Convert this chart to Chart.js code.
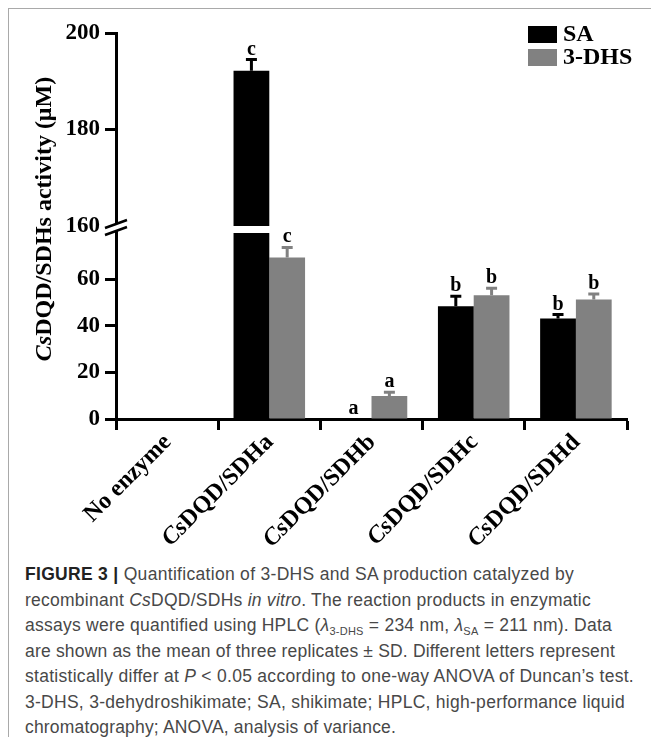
<!DOCTYPE html>
<html>
<head>
<meta charset="utf-8">
<script src="https://cdn.jsdelivr.net/npm/chart.js"></script>
<style>
  html, body { margin: 0; padding: 0; background: #fff; }
  body { width: 651px; height: 737px; position: relative; overflow: hidden; }
  .frame { position: absolute; left: 8px; top: 8px; width: 660px; height: 740px;
           border-top: 1.5px solid #a9a9a9; border-left: 1.5px solid #a9a9a9; }
  #chart { position: absolute; left: 0; top: 0; }
  .caption { position: absolute; left: 25px; top: 562px;
             font-family: "Liberation Sans", Arial, sans-serif; font-size: 17.5px;
             line-height: 25.5px; color: #484848; }
  .caption div { white-space: nowrap; width: max-content; }
  .caption b { color: #222; }
  .caption sub { font-size: 11px; line-height: 0; vertical-align: -4px; }
</style>
</head>
<body>
<div class="frame"></div>
<canvas id="chart" width="651" height="560"></canvas>
<div class="caption">
<div data-end="574"><b>FIGURE 3 |</b> Quantification of 3-DHS and SA production catalyzed by</div>
<div data-end="591">recombinant <i>Cs</i>DQD/SDHs <i>in vitro</i>. The reaction products in enzymatic</div>
<div data-end="612">assays were quantified using HPLC (<i>λ</i><sub>3-DHS</sub> = 234 nm, <i>λ</i><sub>SA</sub> = 211 nm). Data</div>
<div data-end="615">are shown as the mean of three replicates ± SD. Different letters represent</div>
<div data-end="634">statistically differ at <i>P</i> &lt; 0.05 according to one-way ANOVA of Duncan’s test.</div>
<div data-end="625">3-DHS, 3-dehydroshikimate; SA, shikimate; HPLC, high-performance liquid</div>
<div data-end="396">chromatography; ANOVA, analysis of variance.</div>
</div>
<script>
// values (µM)
const CATEGORIES = ['No enzyme', 'CsDQD/SDHa', 'CsDQD/SDHb', 'CsDQD/SDHc', 'CsDQD/SDHd'];
const SA_MEAN = [0, 192.2, 0, 48.5, 43.2];
const SA_SD = [0, 2.3, 0, 4.3, 1.7];
const SA_LETTERS = ['', 'c', 'a', 'b', 'b'];
const DHS_MEAN = [0, 69.4, 9.9, 53.2, 51.4];
const DHS_SD = [0, 4.4, 1.6, 3.0, 2.4];
const DHS_LETTERS = ['', 'c', 'a', 'b', 'b'];
const LOW_TICKS = [0, 20, 40, 60];
const HIGH_TICKS = [160, 180, 200];
const LOW_RANGE = [0, 83];
const HIGH_RANGE = [160, 200];
const BREAK_AT = 80;   // lower bars are cut here, the rest goes on the upper segment

const SERIF = '"Liberation Serif", "Times New Roman", serif';
const SA_COLOR = '#000000';
const DHS_COLOR = '#818181';

// stretch each caption line so it ends where the printed one does
document.querySelectorAll('.caption div').forEach(line => {
  const target = +line.dataset.end - 25;
  const chars = line.textContent.length;
  for (let k = 0; k < 2; k++) {
    const w = line.getBoundingClientRect().width;
    const ls = parseFloat(line.style.letterSpacing) || 0;
    line.style.letterSpacing = (ls + (target - w) / chars) + 'px';
  }
});

function partsOf(label) {
  return label.startsWith('Cs') ? [{ t: 'Cs', i: true }, { t: label.slice(2), i: false }] : [{ t: label, i: false }];
}
function fontFor(p, size) { return (p.i ? 'italic ' : '') + 'bold ' + size + 'px ' + SERIF; }
function measureParts(ctx, parts, size) {
  return parts.reduce((w, p) => { ctx.font = fontFor(p, size); return w + ctx.measureText(p.t).width; }, 0);
}
function fillParts(ctx, parts, size, x, y) {
  parts.forEach(p => { ctx.font = fontFor(p, size); ctx.fillText(p.t, x, y); x += ctx.measureText(p.t).width; });
}

function yScale(ticks, range, weight) {
  return {
    type: 'linear', position: 'left', stack: 'y', stackWeight: 1, weight: weight,
    min: range[0], max: range[1], stacked: false,
    afterBuildTicks: s => { s.ticks = ticks.map(v => ({ value: v })); },
    afterFit: s => { s.width = 116; },
    border: { display: true, color: '#000', width: 3 },
    grid: { drawOnChartArea: false, tickLength: 11, tickWidth: 3,
            tickColor: c => (c.tick && c.tick.value === HIGH_RANGE[0]) ? 'rgba(0,0,0,0)' : '#000' },
    ticks: { color: '#000', padding: 5, font: { family: SERIF, weight: 'bold', size: 23 } }
  };
}

const overlay = {
  id: 'overlay',
  afterDatasetsDraw(chart) {
    const ctx = chart.ctx;
    const low = chart.scales.yLow, high = chart.scales.yHigh;
    const series = [[SA_MEAN, SA_SD, SA_LETTERS, 0, SA_COLOR], [DHS_MEAN, DHS_SD, DHS_LETTERS, 1, DHS_COLOR]];
    ctx.save();
    series.forEach(([mean, sd, letters, di, color]) => {
      const meta = chart.getDatasetMeta(di);
      mean.forEach((m, i) => {
        const axis = m > BREAK_AT ? high : low;
        const bx = meta.data[i].x;
        const yBar = axis.getPixelForValue(m);
        const yErr = axis.getPixelForValue(m + sd[i]);
        if (sd[i] > 0) {
          ctx.strokeStyle = color;
          ctx.lineWidth = 3;
          ctx.beginPath();
          ctx.moveTo(bx, yBar); ctx.lineTo(bx, yErr);
          ctx.moveTo(bx - 5.5, yErr); ctx.lineTo(bx + 5.5, yErr);
          ctx.stroke();
        }
        if (letters[i]) {
          ctx.fillStyle = '#000';
          ctx.font = 'bold 20px ' + SERIF;
          ctx.textAlign = 'center';
          ctx.textBaseline = 'alphabetic';
          ctx.fillText(letters[i], bx, yErr - 5);
        }
      });
    });
    ctx.restore();
  },
  afterDraw(chart) {
    const ctx = chart.ctx, area = chart.chartArea;
    const low = chart.scales.yLow, high = chart.scales.yHigh, xs = chart.scales.x;
    ctx.save();

    // axis break marks
    const ax = low.right, jy = high.bottom;
    ctx.fillStyle = '#fff';
    ctx.fillRect(ax - 3, jy - 2, 6, 7);
    ctx.strokeStyle = '#000';
    ctx.lineWidth = 2.5;
    ctx.beginPath();
    ctx.moveTo(ax - 11, jy + 2); ctx.lineTo(ax + 11, jy - 6);
    ctx.moveTo(ax - 11, jy + 9); ctx.lineTo(ax + 11, jy + 1);
    ctx.stroke();

    // y axis title
    const title = partsOf('CsDQD/SDHs activity (μM)');
    ctx.fillStyle = '#000';
    ctx.textAlign = 'left';
    ctx.textBaseline = 'middle';
    ctx.save();
    ctx.translate(45, (area.top + area.bottom) / 2 - 7);
    ctx.rotate(-Math.PI / 2);
    fillParts(ctx, title, 24, -measureParts(ctx, title, 24) / 2, 0);
    ctx.restore();

    // rotated category labels
    ctx.textBaseline = 'alphabetic';
    CATEGORIES.forEach((lab, i) => {
      const parts = partsOf(lab);
      ctx.save();
      ctx.translate(xs.getPixelForValue(i) + 5, area.bottom + 24);
      ctx.rotate(-Math.PI / 4);
      fillParts(ctx, parts, 24, -measureParts(ctx, parts, 24), 0);
      ctx.restore();
    });

    // legend
    const items = [[chart.data.datasets[0].label, SA_COLOR], [chart.data.datasets[1].label, DHS_COLOR]];
    ctx.textBaseline = 'middle';
    items.forEach(([label, color], k) => {
      const ly = 26 + k * 23;
      ctx.fillStyle = color;
      ctx.fillRect(area.right - 99, ly, 29, 17);
      ctx.fillStyle = '#000';
      ctx.font = 'bold 24px ' + SERIF;
      ctx.fillText(label, area.right - 64, ly + 9);
    });
    ctx.restore();
  }
};

new Chart(document.getElementById('chart'), {
  type: 'bar',
  data: {
    labels: CATEGORIES,
    datasets: [
      { label: 'SA', stack: 'SA', yAxisID: 'yLow', backgroundColor: SA_COLOR,
        data: SA_MEAN.map(v => Math.min(v, BREAK_AT)) },
      { label: '3-DHS', stack: 'DHS', yAxisID: 'yLow', backgroundColor: DHS_COLOR,
        data: DHS_MEAN.map(v => Math.min(v, BREAK_AT)) },
      { label: 'SA (upper)', stack: 'SA', yAxisID: 'yHigh', backgroundColor: SA_COLOR,
        data: SA_MEAN.map(v => v > HIGH_RANGE[0] ? [HIGH_RANGE[0], v] : null) },
      { label: '3-DHS (upper)', stack: 'DHS', yAxisID: 'yHigh', backgroundColor: DHS_COLOR,
        data: DHS_MEAN.map(v => v > HIGH_RANGE[0] ? [HIGH_RANGE[0], v] : null) }
    ]
  },
  options: {
    responsive: false,
    animation: false,
    categoryPercentage: 0.7,
    barPercentage: 1.0,
    layout: { padding: { top: 33, right: 24, bottom: 0, left: 0 } },
    plugins: { legend: { display: false }, tooltip: { enabled: false } },
    scales: {
      x: {
        offset: true,
        afterFit: s => { s.height = 560 - 419; },
        border: { display: true, color: '#000', width: 3 },
        grid: { offset: true, drawOnChartArea: false, tickLength: 11, tickWidth: 3, tickColor: '#000' },
        ticks: { display: false }
      },
      yHigh: yScale(HIGH_TICKS, HIGH_RANGE, 1),
      yLow: yScale(LOW_TICKS, LOW_RANGE, 0)
    }
  },
  plugins: [overlay]
});
</script>
</body>
</html>
